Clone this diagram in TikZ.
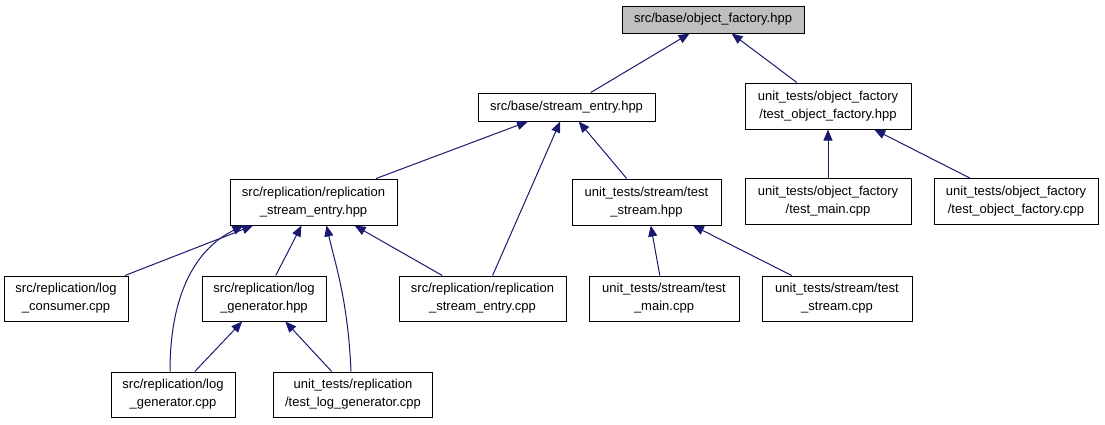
\documentclass[tikz,border=0pt]{standalone}
\usepackage{fontspec}
\setmainfont{Liberation Sans}
\usetikzlibrary{arrows.meta, positioning}
\definecolor{edgeblue}{RGB}{25,25,112}
\definecolor{rootgray}{RGB}{191,191,191}
\tikzset{
  filebox/.style={draw=black, line width=1pt, fill=white, align=center, inner sep=0pt,
    font=\fontsize{13}{18}\selectfont, minimum height=45pt},
  rootbox/.style={filebox, fill=rootgray, minimum height=27pt},
  incl/.style={draw=edgeblue, line width=1pt, -{Triangle[length=11pt,width=9pt]}}
}
\begin{document}
\begin{tikzpicture}[x=1pt, y=-1pt]
    \useasboundingbox (0,0) rectangle (1105,424);

    % Root header
    \node[rootbox, minimum width=182pt] (objfac) at (713,19.5) {src/base/object\_factory.hpp};

    % Second row
    \node[filebox, minimum width=177pt, minimum height=28pt] (streamentry) at (566.5,107) {src/base/stream\_entry.hpp};
    \node[filebox, minimum width=166pt, minimum height=46pt] (tofhpp) at (828,106) {unit\_tests/object\_factory\\/test\_object\_factory.hpp};

    % Third row
    \node[filebox, minimum width=167pt, minimum height=46pt] (rsehpp) at (313.5,202) {src/replication/replication\\\_stream\_entry.hpp};
    \node[filebox, minimum width=149pt, minimum height=46pt] (tshpp) at (646.5,202) {unit\_tests/stream/test\\\_stream.hpp};
    \node[filebox, minimum width=166pt, minimum height=46pt] (tofmain) at (828,201.5) {unit\_tests/object\_factory\\/test\_main.cpp};
    \node[filebox, minimum width=164pt, minimum height=46pt] (tofcpp) at (1016,201.5) {unit\_tests/object\_factory\\/test\_object\_factory.cpp};

    % Fourth row
    \node[filebox, minimum width=124pt] (logcons) at (66,298.5) {src/replication/log\\\_consumer.cpp};
    \node[filebox, minimum width=124pt] (loggenhpp) at (264,298.5) {src/replication/log\\\_generator.hpp};
    \node[filebox, minimum width=167pt] (rsecpp) at (482.5,298.5) {src/replication/replication\\\_stream\_entry.cpp};
    \node[filebox, minimum width=150pt] (tsmain) at (664,298.5) {unit\_tests/stream/test\\\_main.cpp};
    \node[filebox, minimum width=150pt] (tscpp) at (837,298.5) {unit\_tests/stream/test\\\_stream.cpp};

    % Bottom row
    \node[filebox, minimum width=124pt] (loggencpp) at (173,394.5) {src/replication/log\\\_generator.cpp};
    \node[filebox, minimum width=159pt] (tlgcpp) at (353,394.5) {unit\_tests/replication\\/test\_log\_generator.cpp};

    % Include edges
    \draw[incl] (streamentry) -- (objfac);
    \draw[incl] (tofhpp) -- (objfac);
    \draw[incl] (rsehpp) -- (streamentry);
    \draw[incl] (rsecpp) -- (streamentry);
    \draw[incl] (tshpp) -- (streamentry);
    \draw[incl] (tofmain) -- (tofhpp);
    \draw[incl] (tofcpp) -- (tofhpp);
    \draw[incl] (logcons) -- (rsehpp);
    \draw[incl] (loggenhpp) -- (rsehpp);
    \draw[incl] (rsecpp) -- (rsehpp);
    \draw[incl] (tsmain) -- (tshpp);
    \draw[incl] (tscpp) -- (tshpp);
    \draw[incl] (loggencpp) -- (loggenhpp);
    \draw[incl] (tlgcpp) -- (loggenhpp);
    \draw[incl] ([xshift=-3pt]loggencpp.north) .. controls +(0,-82) and +(-45,22) .. ([xshift=-70pt]rsehpp.south);
    \draw[incl] ([xshift=-2pt]tlgcpp.north) .. controls +(-3,-72) and +(8,36) .. ([xshift=13pt]rsehpp.south);

\end{tikzpicture}
\end{document}
